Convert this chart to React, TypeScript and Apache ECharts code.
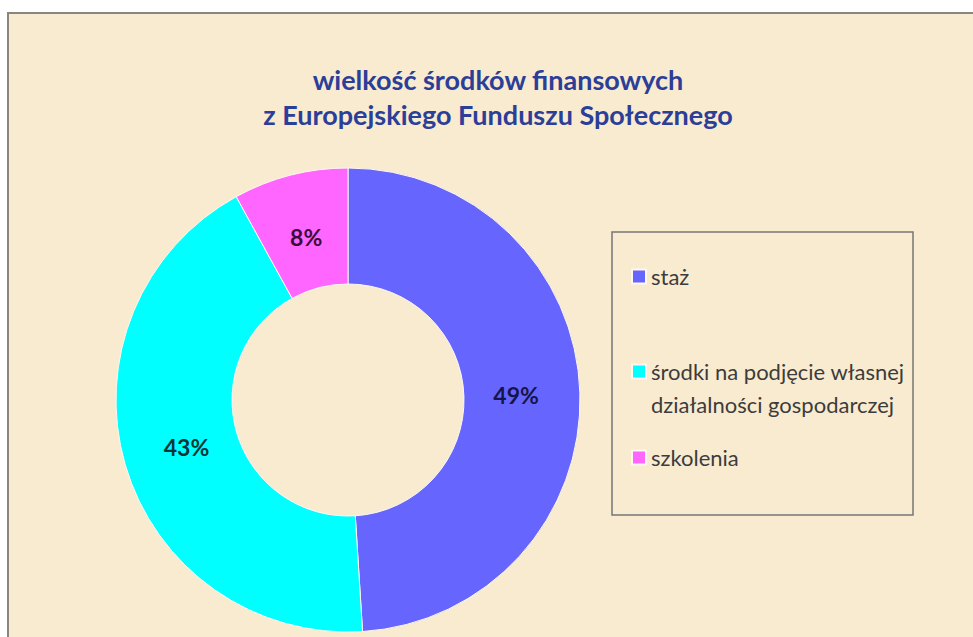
import React, { useEffect, useRef } from "react";
import * as echarts from "echarts";

const titleLines = ["wielkość środków finansowych", "z Europejskiego Funduszu Społecznego"];
const categories = ["staż", "środki na podjęcie własnej działalności gospodarczej", "szkolenia"];
const legendLabels = ["staż", "\nśrodki na podjęcie własnej\ndziałalności gospodarczej", "szkolenia"];
const values = [49, 43, 8];
const colors = ["#6666ff", "#00ffff", "#ff66ff"];
const labelColors = ["#15154a", "#063636", "#3a0c3a"];

const FONT = "Lato, 'Open Sans', sans-serif";
const CENTER: [number, number] = [348, 400];

export default function App() {
  const ref = useRef<HTMLDivElement>(null);

  useEffect(() => {
    if (!ref.current) return;
    const chart = echarts.init(ref.current, undefined, { renderer: "svg" });

    const legendLH = 33;
    const legendTops = [260, 322, 441];

    const legends = categories.map((name, i) => ({
      data: [name],
      left: 631,
      top: legendTops[i],
      orient: "vertical" as const,
      padding: 0,
      itemGap: 0,
      itemWidth: 14,
      itemHeight: 14,
      icon: "rect",
      selectedMode: false,
      formatter: () => legendLabels[i],
      textStyle: {
        fontFamily: FONT,
        fontSize: 22,
        color: "#3c3c3c",
        lineHeight: legendLH,
      },
    }));

    chart.setOption({
      animation: false,
      backgroundColor: "#ffffff",
      color: colors,
      title: {
        text: titleLines.join("\n"),
        left: 493,
        top: 57,
        textAlign: "center",
        textStyle: {
          fontFamily: FONT,
          fontSize: 27,
          fontWeight: "bold",
          color: "#2b3e98",
          lineHeight: 35,
        },
      },
      legend: legends,
      graphic: [
        {
          type: "rect",
          z: -10,
          shape: { x: 8, y: 13, width: 990, height: 650 },
          style: { fill: "#f9ebd0", stroke: "#8a8580", lineWidth: 2 },
        },
        {
          type: "rect",
          z: 10,
          shape: { x: 612, y: 232, width: 301, height: 283 },
          style: { fill: "none", stroke: "#767676", lineWidth: 1.5 },
        },
      ],
      series: [
        {
          type: "pie",
          center: CENTER,
          radius: [116, 232],
          startAngle: 90,
          clockwise: true,
          avoidLabelOverlap: false,
          itemStyle: { borderColor: "#fff8f0", borderWidth: 1 },
          label: {
            show: true,
            position: "inside",
            formatter: "{c}%",
            fontFamily: FONT,
            fontSize: 23,
            fontWeight: "bold",
          },
          labelLayout: (params: any) => {
            const r = params.labelRect;
            const lx = r.x + r.width / 2;
            const ly = r.y + r.height / 2;
            const k = 0.95;
            return {
              x: CENTER[0] + (lx - CENTER[0]) * k,
              y: CENTER[1] + (ly - CENTER[1]) * k,
            };
          },
          labelLine: { show: false },
          emphasis: { disabled: true },
          data: categories.map((name, i) => ({
            name,
            value: values[i],
            itemStyle: { color: colors[i] },
            label: { color: labelColors[i] },
          })),
        },
      ],
    });

    return () => chart.dispose();
  }, []);

  return (
    <div
      ref={ref}
      style={{ position: "absolute", left: 0, top: 0, width: 973, height: 637 }}
    />
  );
}
